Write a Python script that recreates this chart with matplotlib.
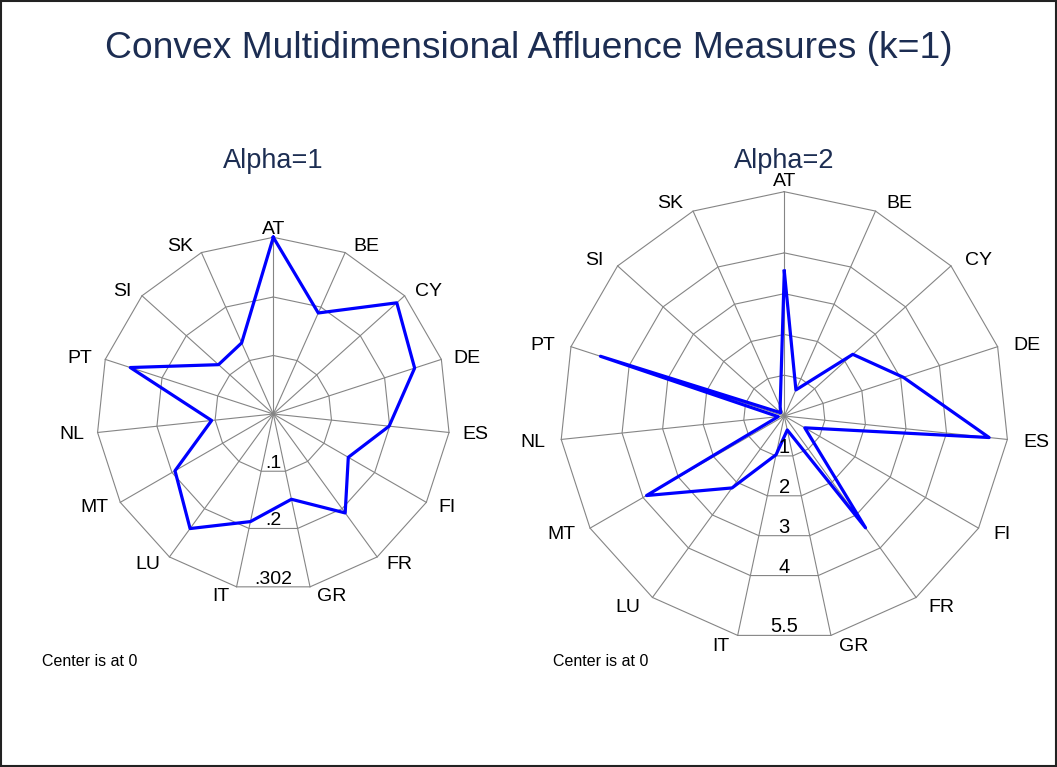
"""
Radar charts (Stata style) of convex multidimensional affluence measures, k=1.
Saves out.png (1057x767).
"""
import matplotlib.pyplot as plt
import numpy as np
from matplotlib.patches import Rectangle

COUNTRIES = ['AT', 'BE', 'CY', 'DE', 'ES', 'FI', 'FR', 'GR', 'IT', 'LU',
             'MT', 'NL', 'PT', 'SI', 'SK']

# Alpha=1
ALPHA1 = [0.302, 0.189, 0.284, 0.254, 0.199, 0.148, 0.209, 0.149, 0.188, 0.242,
          0.194, 0.106, 0.257, 0.126, 0.133]
RINGS1 = [0.1, 0.2, 0.302]
RING_LABELS1 = ['.1', '.2', '.302']

# Alpha=2
ALPHA2 = [3.55, 0.70, 2.26, 3.07, 5.05, 0.58, 3.39, 0.35, 0.97, 2.18,
          3.90, 0.15, 4.74, 0.12, 0.25]
RINGS2 = [1, 2, 3, 4, 5.5]
RING_LABELS2 = ['1', '2', '3', '4', '5.5']

W, H = 1057, 767
NAVY = '#1c2d52'
GRID = '#858585'
BLUE = '#0000ff'


def radar(fig, cx, cy, R, values, rings, ring_labels, subtitle, ring_fs):
    """Un radar centrado en (cx, cy) px con radio exterior R px."""
    ax = fig.add_axes([(cx - R) / W, (H - cy - R) / H, 2 * R / W, 2 * R / H],
                      projection='polar')
    ax.set_theta_offset(np.pi / 2)
    ax.set_theta_direction(-1)
    ax.set_ylim(0, rings[-1])
    ax.set_axis_off()

    n = len(COUNTRIES)
    theta = np.arange(n) * 2 * np.pi / n
    closed = np.append(theta, theta[0])
    rmax = rings[-1]

    for r in rings:
        ax.plot(closed, [r] * (n + 1), color=GRID, lw=0.8, clip_on=False)
    for t in theta:
        ax.plot([t, t], [0, rmax], color=GRID, lw=0.8, clip_on=False)

    ax.plot(closed, np.append(values, values[0]), color=BLUE, lw=2.3,
            clip_on=False, zorder=3)

    # etiquetas de los radios
    for t, name in zip(theta, COUNTRIES):
        a = np.pi / 2 - t
        ca, sa = np.cos(a), np.sin(a)
        if abs(ca) < 1e-6:
            ha, dx, dy = 'center', 0, 0.045 * R
        else:
            ha = 'left' if ca > 0 else 'right'
            dx = np.sign(ca) * (0.028 + 0.045 * abs(ca)) * R
            dy = 0.045 * R * sa - 1.5
        ax.annotate(name, (t, rmax), xytext=(dx, dy), textcoords='offset pixels',
                    ha=ha, va='center', fontsize=14, annotation_clip=False)

    # etiquetas de los anillos
    for r, lab in zip(rings, ring_labels):
        ax.annotate(lab, (np.pi, r * np.cos(np.pi / n)), xytext=(0, 3),
                    textcoords='offset pixels', ha='center', va='baseline',
                    fontsize=ring_fs, annotation_clip=False)

    fig.text(cx / W, 1 - 168.5 / H, subtitle, ha='center', va='baseline',
             fontsize=19.5, color=NAVY)
    fig.text((cx - 231.6) / W, 1 - 666.5 / H, 'Center is at 0', ha='left',
             va='baseline', fontsize=11.5)
    return ax


def main() -> None:
    plt.rcParams['font.family'] = ['Liberation Sans', 'DejaVu Sans']
    fig = plt.figure(figsize=(W / 100, H / 100), dpi=100)

    fig.text(0.5, 1 - 57.5 / H, 'Convex Multidimensional Affluence Measures (k=1)',
             ha='center', va='baseline', fontsize=26.8, color=NAVY)

    radar(fig, 273.3, 414, 176.7, ALPHA1, RINGS1, RING_LABELS1, 'Alpha=1', 14)
    radar(fig, 784.3, 416, 224.3, ALPHA2, RINGS2, RING_LABELS2, 'Alpha=2', 14.5)

    fig.add_artist(Rectangle((0.001, 0.001), 0.998, 0.998, transform=fig.transFigure,
                             fill=False, lw=1.5, ec='#222222'))
    fig.savefig('out.png', dpi=100)
    plt.close(fig)


if __name__ == '__main__':
    main()
